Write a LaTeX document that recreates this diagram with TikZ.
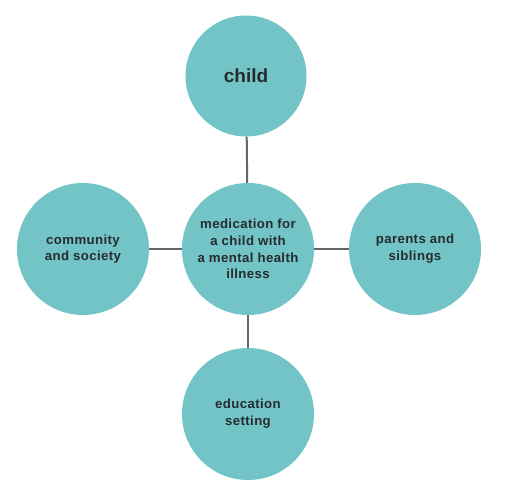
\documentclass[tikz,border=0pt]{standalone}
\usepackage{fontspec}
\setmainfont{Liberation Sans}
\newfontfamily\bubblefont[LetterSpace=3]{Liberation Sans}
\usepackage{xcolor}
\definecolor{bubble}{HTML}{72C4C7}
\definecolor{spoke}{HTML}{666666}
\definecolor{ink}{HTML}{262B2E}

\begin{document}
\begin{tikzpicture}[x=1pt, y=-1pt]
  \useasboundingbox[fill=white] (0,0) rectangle (512,494);
  \begin{scope}[nodes = {fill = bubble, circle, inner sep = 0pt, minimum size = 132pt, align = center, text = ink}, font = \bubblefont\bfseries\fontsize{13.2}{16.8}\selectfont]
    \node (med) at (248,249) {medication for\\a child with\\a mental health\\illness};
    \node[minimum size = 121pt, font = \bfseries\fontsize{19}{22}\selectfont] (child) at (246,76) {child};
    \node (comm) at (83,249) {community\\and society};
    \node (fam) at (415,249) {parents and\\siblings};
    \node (edu) at (248,414) {education\\setting};
  \end{scope}
  \begin{scope}[spoke, line width = 2pt]
    \draw (child) -- (med);
    \draw (comm) -- (med) -- (fam);
    \draw (med) -- (edu);
  \end{scope}
\end{tikzpicture}
\end{document}
